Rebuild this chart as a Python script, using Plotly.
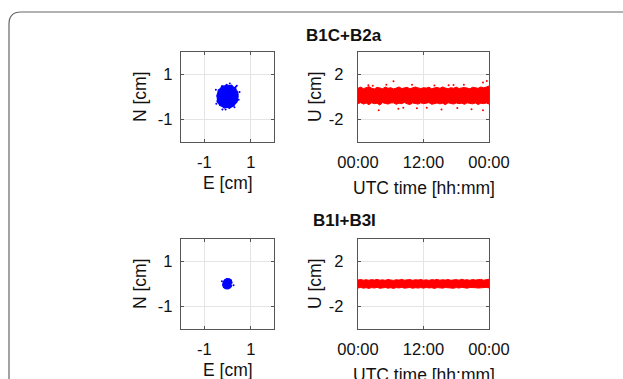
import plotly.graph_objects as go

W, H = 623, 379

TITLES = ["B1C+B2a", "B1I+B3I"]
ENU_TICKS = [-1, 1]
ENU_LABELS = ["-1", "1"]
U_TICKS = [-2, 2]
U_LABELS = ["-2", "2"]
TIME_TICKS = [0, 12, 24]
TIME_LABELS = ["00:00", "12:00", "00:00"]

# Horizontal cluster outlines (E, N in cm)
C1_E = [0.46, 0.44, 0.38, 0.34, 0.25, 0.18, 0.06, -0.04, -0.14, -0.24, -0.30, -0.39, -0.42,
        -0.46, -0.43, -0.45, -0.38, -0.33, -0.22, -0.14, -0.02, 0.08, 0.17, 0.27, 0.33, 0.41, 0.44, 0.46]
C1_N = [0.06, 0.22, 0.30, 0.42, 0.44, 0.53, 0.50, 0.56, 0.48, 0.50, 0.38, 0.32, 0.18,
        0.05, -0.08, -0.20, -0.28, -0.38, -0.42, -0.49, -0.45, -0.50, -0.44, -0.40, -0.30, -0.22, -0.08, 0.06]
C1_OUT_E = [0.40, 0.52, -0.50, 0.30, -0.22, 0.48, -0.48, 0.10, -0.08, 0.36]
C1_OUT_N = [0.50, 0.22, 0.32, -0.46, -0.55, -0.12, -0.30, 0.60, -0.56, 0.46]

C2_E = [0.20, 0.16, 0.08, -0.03, -0.12, -0.18, -0.21, -0.17, -0.09, 0.03, 0.13, 0.18, 0.14, 0.20]
C2_N = [0.04, 0.18, 0.23, 0.24, 0.19, 0.10, -0.04, -0.15, -0.21, -0.22, -0.16, -0.08, -0.01, 0.04]
C2_OUT_E = [0.26, -0.24]
C2_OUT_N = [-0.05, 0.12]

# Up component envelopes (cm) vs time (hours)
TIME_H = [0.0, 0.5, 1.0, 1.5, 2.0, 2.5, 3.0, 3.5, 4.0, 4.5, 5.0, 5.5, 6.0, 6.5, 7.0, 7.5,
          8.0, 8.5, 9.0, 9.5, 10.0, 10.5, 11.0, 11.5, 12.0, 12.5, 13.0, 13.5, 14.0, 14.5,
          15.0, 15.5, 16.0, 16.5, 17.0, 17.5, 18.0, 18.5, 19.0, 19.5, 20.0, 20.5, 21.0,
          21.5, 22.0, 22.5, 23.0, 23.5, 24.0]
U1_HI = [0.78, 0.88, 0.74, 0.84, 0.92, 0.78, 0.72, 0.86, 0.80, 0.74, 0.88, 0.77, 0.83, 0.72,
         0.79, 0.90, 0.75, 0.81, 0.86, 0.73, 0.78, 0.89, 0.81, 0.75, 0.83, 0.79, 0.87, 0.73,
         0.81, 0.85, 0.77, 0.90, 0.79, 0.73, 0.83, 0.78, 0.88, 0.75, 0.81, 0.85, 0.79, 0.73,
         0.87, 0.81, 0.77, 0.89, 0.83, 0.88, 0.98]
U1_LO = [-0.58, -0.50, -0.63, -0.54, -0.68, -0.52, -0.59, -0.55, -0.72, -0.50, -0.57, -0.63,
         -0.53, -0.52, -0.65, -0.55, -0.59, -0.49, -0.61, -0.67, -0.53, -0.56, -0.63, -0.52,
         -0.59, -0.55, -0.50, -0.65, -0.57, -0.53, -0.61, -0.55, -0.68, -0.52, -0.57, -0.63,
         -0.53, -0.59, -0.55, -0.65, -0.52, -0.57, -0.61, -0.53, -0.67, -0.55, -0.59, -0.53, -0.63]
U1_OUT_T = [1.9, 3.8, 5.2, 6.5, 8.3, 9.9, 10.8, 14.0, 15.3, 16.6, 18.2, 19.4, 20.8, 22.9, 22.9, 2.7, 12.6, 7.4, 17.5, 23.6]
U1_OUT_U = [1.05, -1.18, 1.10, 1.39, -0.95, 1.08, -1.00, 1.02, -1.10, 1.04, -0.98, 1.08, -1.08, -1.18, 1.28, 1.00, -0.96, -1.05, 1.06, 1.42]

U2_HI = [0.36, 0.40, 0.34, 0.38, 0.33, 0.39, 0.35, 0.41, 0.34, 0.37, 0.33, 0.40, 0.36, 0.32,
         0.38, 0.35, 0.41, 0.34, 0.37, 0.39, 0.33, 0.38, 0.35, 0.40, 0.34, 0.37, 0.32, 0.39,
         0.36, 0.41, 0.34, 0.38, 0.35, 0.40, 0.33, 0.37, 0.39, 0.34, 0.42, 0.36, 0.38, 0.33,
         0.40, 0.35, 0.37, 0.41, 0.34, 0.39, 0.42]
U2_LO = [-0.35, -0.31, -0.37, -0.33, -0.39, -0.32, -0.36, -0.30, -0.38, -0.34, -0.31, -0.37,
         -0.33, -0.39, -0.32, -0.35, -0.30, -0.37, -0.34, -0.31, -0.38, -0.33, -0.36, -0.32,
         -0.37, -0.31, -0.35, -0.33, -0.39, -0.32, -0.34, -0.37, -0.31, -0.35, -0.33, -0.38,
         -0.32, -0.36, -0.30, -0.34, -0.37, -0.31, -0.35, -0.33, -0.36, -0.32, -0.34, -0.30, -0.35]

RED = "#ff0000"
BLUE = "#0000ff"
FONT = "Liberation Sans, Arial, sans-serif"

def px_x(p):
    return p / W

def px_y(p):
    return 1 - p / H

rows = [
    dict(top=52, bottom=142),
    dict(top=239, bottom=329),
]
sc_x = (181, 274)
ts_x = (358, 489)

fig = go.Figure()

clusters = [(C1_E, C1_N, C1_OUT_E, C1_OUT_N), (C2_E, C2_N, C2_OUT_E, C2_OUT_N)]
bands = [(U1_HI, U1_LO, U1_OUT_T, U1_OUT_U), (U2_HI, U2_LO, [], [])]

layout = dict(
    template="none",
    width=W, height=H, margin=dict(l=0, r=0, t=0, b=0, pad=0, autoexpand=False),
    paper_bgcolor="white", plot_bgcolor="white", showlegend=False, hovermode=False,
    font=dict(family=FONT, size=17, color="#111"),
)

axis_common = dict(
    showline=True, mirror="allticks", linecolor="#555555", linewidth=1.2,
    showgrid=True, gridcolor="#e4e4e4", gridwidth=1, zeroline=False,
    ticks="inside", ticklen=3, tickcolor="#555555", fixedrange=True, automargin=False,
    tickfont=dict(size=16.5, family=FONT, color="#111"),
)

annotations = []
for i, r in enumerate(rows):
    n = 2 * i + 1
    xa_s, ya_s = f"x{n}", f"y{n}"
    xa_t, ya_t = f"x{n+1}", f"y{n+1}"
    ydom = [px_y(r["bottom"]), px_y(r["top"])]
    E, N, OE, ON = clusters[i]
    fig.add_trace(go.Scatter(x=E, y=N, xaxis=xa_s, yaxis=ya_s, mode="lines",
                             fill="toself", fillcolor=BLUE, line=dict(color=BLUE, width=1.2)))
    if OE:
        fig.add_trace(go.Scatter(x=OE, y=ON, xaxis=xa_s, yaxis=ya_s, mode="markers",
                                 marker=dict(color=BLUE, size=2)))
    HI, LO, OT, OU = bands[i]
    fig.add_trace(go.Scatter(x=TIME_H, y=LO, xaxis=xa_t, yaxis=ya_t, mode="lines",
                             line=dict(color=RED, width=1)))
    fig.add_trace(go.Scatter(x=TIME_H, y=HI, xaxis=xa_t, yaxis=ya_t, mode="lines",
                             fill="tonexty", fillcolor=RED, line=dict(color=RED, width=1)))
    if OT:
        fig.add_trace(go.Scatter(x=OT, y=OU, xaxis=xa_t, yaxis=ya_t, mode="markers",
                                 marker=dict(color=RED, size=2)))

    kx = "xaxis" if n == 1 else f"xaxis{n}"
    ky = "yaxis" if n == 1 else f"yaxis{n}"
    layout[kx] = dict(axis_common, domain=[px_x(sc_x[0]), px_x(sc_x[1])], range=[-2, 2],
                      tickvals=ENU_TICKS, ticktext=ENU_LABELS, anchor=ya_s, ticklabelstandoff=5)
    layout[ky] = dict(axis_common, domain=ydom, range=[-2, 2], tickvals=ENU_TICKS,
                      ticktext=ENU_LABELS, anchor=xa_s, ticklabelstandoff=4)
    layout[f"xaxis{n+1}"] = dict(axis_common, domain=[px_x(ts_x[0]), px_x(ts_x[1])],
                                 range=[0, 24], tickvals=TIME_TICKS, ticktext=TIME_LABELS,
                                 anchor=ya_t, ticklabelstandoff=5)
    layout[f"yaxis{n+1}"] = dict(axis_common, domain=ydom, range=[-4, 4], tickvals=U_TICKS,
                                 ticktext=U_LABELS, anchor=xa_t, ticklabelstandoff=10)

    title_y = 35.5 if i == 0 else 220
    annotations += [
        dict(text=f"<b>{TITLES[i]}</b>", x=px_x(344), y=px_y(title_y),
             xref="paper", yref="paper", showarrow=False, font=dict(size=17),
             xanchor="center", yanchor="middle"),
        dict(text="E [cm]", x=px_x(227.5), y=px_y(r["bottom"] + 41), xref="paper", yref="paper",
             showarrow=False, xanchor="center", yanchor="middle", font=dict(size=17.5)),
        dict(text="UTC time [hh:mm]", x=px_x(423.5), y=px_y(r["bottom"] + 46), xref="paper",
             yref="paper", showarrow=False, xanchor="center", yanchor="middle", font=dict(size=17.5)),
        dict(text="N [cm]", x=px_x(140), y=px_y((r["top"] + r["bottom"]) / 2), xref="paper",
             yref="paper", showarrow=False, textangle=-90, xanchor="center", yanchor="middle",
             font=dict(size=17.5)),
        dict(text="U [cm]", x=px_x(315), y=px_y((r["top"] + r["bottom"]) / 2), xref="paper",
             yref="paper", showarrow=False, textangle=-90, xanchor="center", yanchor="middle",
             font=dict(size=17.5)),
    ]

layout["annotations"] = annotations

# rounded outer frame
x0, y0, rad = 9, 12, 12
path = (f"M {px_x(x0)},{px_y(H + 5)} L {px_x(x0)},{px_y(y0 + rad)} "
        f"Q {px_x(x0)},{px_y(y0)} {px_x(x0 + rad)},{px_y(y0)} L {px_x(W + 5)},{px_y(y0)}")
layout["shapes"] = [dict(type="path", path=path, xref="paper", yref="paper",
                         line=dict(color="#666666", width=1.2))]

fig.update_layout(**layout)
fig.write_html("out.html", config={"displayModeBar": False, "staticPlot": True},
               post_script="document.body.style.margin='0';")
